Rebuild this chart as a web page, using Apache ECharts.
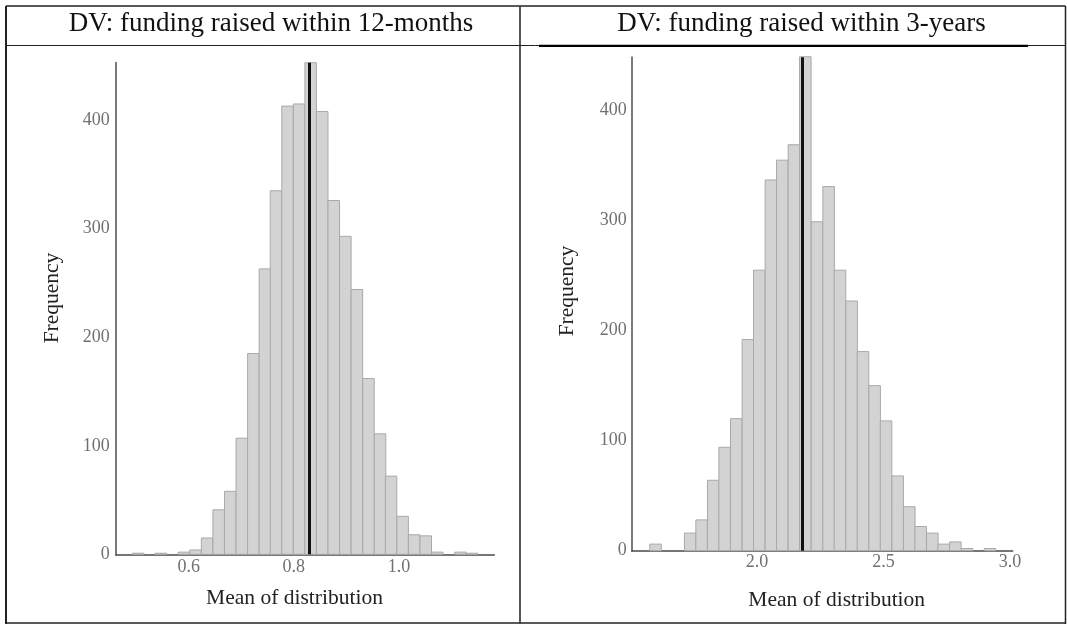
<!DOCTYPE html>
<html><head><meta charset="utf-8">
<script src="https://cdn.jsdelivr.net/npm/echarts@6/dist/echarts.min.js"></script>
<style>html,body{margin:0;padding:0;background:#fff}#c{width:1067px;height:624px}</style>
</head><body><div id="c"></div>
<script>
// ---- data ----
const titles = ['DV: funding raised within 12-months', 'DV: funding raised within 3-years'];
const xTitle = 'Mean of distribution';
const yTitle = 'Frequency';

// left panel (12-months)
const bins12 = [0.504,0.526,0.547,0.569,0.591,0.613,0.635,0.657,0.679,0.701,0.723,0.745,0.766,0.788,0.810,0.832,0.854,0.876,0.898,0.920,0.942,0.964,0.985,1.007,1.029,1.051,1.073,1.095,1.117,1.139];
const counts12 = [1,0,1,0,2,4,15,41,58,107,185,263,335,413,415,453,408,326,293,244,162,111,72,35,18,17,2,0,2,1];
const binWidth12 = 0.0219;
const mean12 = 0.826;
const xTicks12 = [0.6, 0.8, 1.0];
const yTicks12 = [0, 100, 200, 300, 400];

// right panel (3-years)
const bins3y = [1.599,1.645,1.690,1.736,1.781,1.827,1.872,1.918,1.964,2.009,2.055,2.100,2.146,2.191,2.237,2.283,2.328,2.374,2.419,2.465,2.510,2.556,2.602,2.647,2.693,2.738,2.784,2.830,2.875,2.921];
const counts3y = [6,0,0,16,28,64,94,120,192,255,337,355,369,449,299,331,255,227,181,150,118,68,40,22,16,6,8,2,0,2];
const binWidth3y = 0.0456;
const mean3y = 2.177;
const xTicks3y = [2.0, 2.5, 3.0];
const yTicks3y = [0, 100, 200, 300, 400];

// ---- chart ----
const FONT = '"Liberation Serif", "Times New Roman", serif';
const chart = echarts.init(document.getElementById('c'));

function histItem(width) {
  return function (params, api) {
    const c = api.value(0), v = api.value(1);
    if (!v) return null;
    const p0 = api.coord([c - width / 2, v]);
    const p1 = api.coord([c + width / 2, 0]);
    return {
      type: 'rect',
      shape: { x: p0[0], y: p0[1], width: p1[0] - p0[0], height: p1[1] - p0[1] },
      style: { fill: '#d3d3d3', stroke: '#a9a9a9', lineWidth: 1 }
    };
  };
}

function xAxisCfg(idx, min, max, ticks, margin) {
  return {
    type: 'value', gridIndex: idx, min: min, max: max,
    axisLine: { show: true, lineStyle: { color: '#4a4a4a', width: 1.5 } },
    axisTick: { show: false },
    splitLine: { show: false },
    axisLabel: {
      customValues: ticks, margin: margin,
      formatter: v => Number(v).toFixed(1),
      color: '#707070', fontFamily: FONT, fontSize: 18
    }
  };
}
function yAxisCfg(idx, max, ticks, margin) {
  return {
    type: 'value', gridIndex: idx, min: 0, max: max,
    axisLine: { show: true, lineStyle: { color: '#7a7a7a', width: 2 } },
    axisTick: { show: false },
    splitLine: { show: false },
    axisLabel: {
      customValues: ticks, margin: margin,
      color: '#707070', fontFamily: FONT, fontSize: 18
    }
  };
}
function meanLine(x) {
  return {
    silent: true, symbol: ['none', 'none'], label: { show: false },
    lineStyle: { color: '#111', width: 3, type: 'solid' },
    data: [{ xAxis: x }]
  };
}

const line = (x1, y1, x2, y2, w, c) => ({
  type: 'line', silent: true,
  shape: { x1, y1, x2, y2 },
  style: { stroke: c, lineWidth: w }
});
const txt = (text, x, y, size, color, rot) => ({
  type: 'text', silent: true, x: x, y: y, rotation: rot || 0,
  style: { text: text, x: 0, y: 0, align: 'center', verticalAlign: 'middle',
           fontFamily: FONT, fontSize: size, fill: color }
});

chart.setOption({
  animation: false,
  backgroundColor: '#fff',
  grid: [
    { left: 115.7, right: 572.7, top: 62.7, bottom: 69.7 },
    { left: 631.7, right: 54.3, top: 57.3, bottom: 73.3 }
  ],
  xAxis: [
    xAxisCfg(0, 0.4611, 1.1814, xTicks12, 4),
    xAxisCfg(1, 1.5047, 3.0107, xTicks3y, 3)
  ],
  yAxis: [
    yAxisCfg(0, 453, yTicks12, 6),
    yAxisCfg(1, 448.5, yTicks3y, 5)
  ],
  series: [
    {
      type: 'custom', xAxisIndex: 0, yAxisIndex: 0,
      renderItem: histItem(binWidth12),
      data: bins12.map((b, i) => [b, counts12[i]]),
      markLine: meanLine(mean12)
    },
    {
      type: 'custom', xAxisIndex: 1, yAxisIndex: 1,
      renderItem: histItem(binWidth3y),
      data: bins3y.map((b, i) => [b, counts3y[i]]),
      markLine: meanLine(mean3y)
    }
  ],
  graphic: [
    // table borders
    line(6, 6, 1065.5, 6, 1.5, '#222'),
    line(6, 6, 6, 624, 2, '#222'),
    line(1065.5, 6, 1065.5, 624, 1.5, '#222'),
    line(6, 623, 1065.5, 623, 1.5, '#222'),
    line(520, 6, 520, 624, 1.8, '#444'),
    line(6, 45.5, 1065.5, 45.5, 1, '#222'),
    line(539, 45.8, 1028, 45.8, 2.2, '#000'),
    // headers
    txt(titles[0], 271, 23.5, 27, '#111'),
    txt(titles[1], 801.5, 23.5, 27, '#111'),
    // axis titles
    txt(xTitle, 294.5, 598, 21.5, '#222'),
    txt(xTitle, 836.7, 600, 21.5, '#222'),
    txt(yTitle, 52, 298, 21.5, '#222', Math.PI / 2),
    txt(yTitle, 567, 291, 21.5, '#222', Math.PI / 2)
  ]
});
</script>
</body></html>
